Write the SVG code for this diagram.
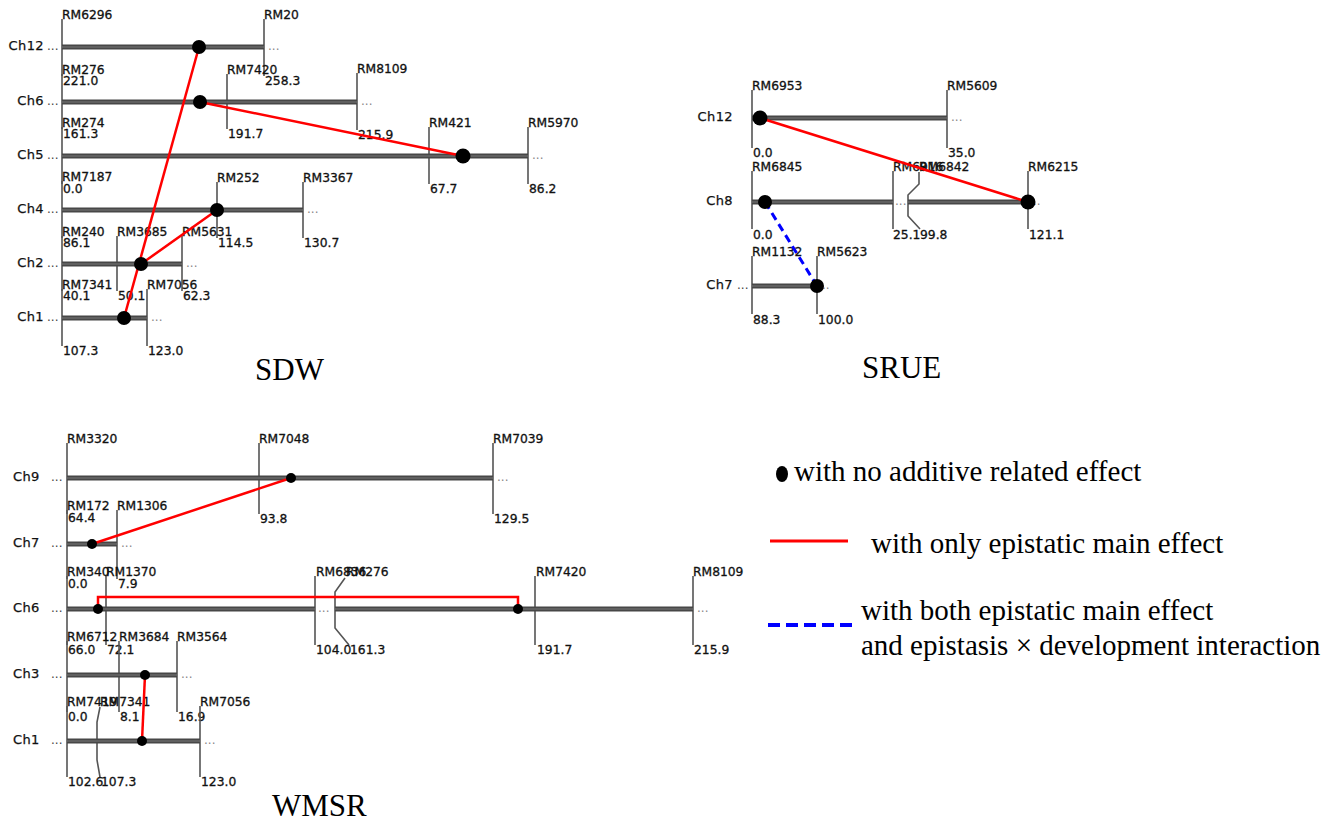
<svg xmlns="http://www.w3.org/2000/svg" width="1335" height="821" viewBox="0 0 1335 821">
<style>
.bar{stroke:#474747;stroke-width:5;fill:none}
.hl{stroke:#7a7a7a;stroke-width:1;fill:none}
.tk{stroke:#555;stroke-width:1.6;fill:none}
.m{font-family:"DejaVu Sans",sans-serif;font-size:12.3px;fill:#111;stroke:#111;stroke-width:0.3}
.ch{font-family:"DejaVu Sans",sans-serif;font-size:13px;fill:#111;stroke:#111;stroke-width:0.25;letter-spacing:0.4px}
.dl{font-family:"DejaVu Sans",sans-serif;font-size:12px;fill:#444}
.dr{font-family:"DejaVu Sans",sans-serif;font-size:12px;fill:#888}
.ti{font-family:"Liberation Serif","Times New Roman",serif;font-size:31px;fill:#000}
.lg{font-family:"Liberation Serif","Times New Roman",serif;font-size:29px;fill:#000}
.red{stroke:#ff0000;stroke-width:2.5;fill:none}
.blue{stroke:#0000ff;stroke-width:3;stroke-dasharray:8 5;fill:none}
.dot{fill:#000}
</style>
<rect width="1335" height="821" fill="#fff"/>

<!-- ===== SDW ===== -->
<g id="sdw-ch12">
<text class="ch" x="44" y="50" text-anchor="end">Ch12</text><text class="dl" x="47" y="50">...</text>
<path class="tk" d="M62 19V76M264 19V76"/>
<path class="bar" d="M62 47H264"/><path class="hl" d="M62 47H264"/>
<text class="dr" x="268" y="50">...</text>
<text class="m" x="62" y="19">RM6296</text><text class="m" x="264" y="19">RM20</text>
<text class="m" x="63" y="85">221.0</text><text class="m" x="265" y="85">258.3</text>
</g>
<g id="sdw-ch6">
<text class="ch" x="44" y="105" text-anchor="end">Ch6</text><text class="dl" x="47" y="105">...</text>
<path class="tk" d="M62 74V129M227 74V129M357 73V130"/>
<path class="bar" d="M62 102H357"/><path class="hl" d="M62 102H357"/>
<text class="dr" x="361" y="105">...</text>
<text class="m" x="62" y="74">RM276</text><text class="m" x="227" y="74">RM7420</text><text class="m" x="357" y="73">RM8109</text>
<text class="m" x="63" y="138">161.3</text><text class="m" x="228" y="138">191.7</text><text class="m" x="358" y="139">215.9</text>
</g>
<g id="sdw-ch5">
<text class="ch" x="44" y="159" text-anchor="end">Ch5</text><text class="dl" x="47" y="159">...</text>
<path class="tk" d="M62 127V184M429 127V184M528 127V184"/>
<path class="bar" d="M62 156H528"/><path class="hl" d="M62 156H528"/>
<text class="dr" x="532" y="159">...</text>
<text class="m" x="62" y="127">RM274</text><text class="m" x="429" y="127">RM421</text><text class="m" x="528" y="127">RM5970</text>
<text class="m" x="63" y="193">0.0</text><text class="m" x="430" y="193">67.7</text><text class="m" x="529" y="193">86.2</text>
</g>
<g id="sdw-ch4">
<text class="ch" x="44" y="213" text-anchor="end">Ch4</text><text class="dl" x="47" y="213">...</text>
<path class="tk" d="M62 181V238M217 182V238M303 182V238"/>
<path class="bar" d="M62 210H303"/><path class="hl" d="M62 210H303"/>
<text class="dr" x="307" y="213">...</text>
<text class="m" x="62" y="181">RM7187</text><text class="m" x="217" y="182">RM252</text><text class="m" x="303" y="182">RM3367</text>
<text class="m" x="63" y="247">86.1</text><text class="m" x="218" y="247">114.5</text><text class="m" x="304" y="247">130.7</text>
</g>
<g id="sdw-ch2">
<text class="ch" x="44" y="267" text-anchor="end">Ch2</text><text class="dl" x="47" y="267">...</text>
<path class="tk" d="M62 236V291M117 236V291M182 236V291"/>
<path class="bar" d="M62 264H182"/><path class="hl" d="M62 264H182"/>
<text class="dr" x="186" y="267">...</text>
<text class="m" x="62" y="236">RM240</text><text class="m" x="117" y="236">RM3685</text><text class="m" x="182" y="236">RM5631</text>
<text class="m" x="63" y="300">40.1</text><text class="m" x="118" y="300">50.1</text><text class="m" x="183" y="300">62.3</text>
</g>
<g id="sdw-ch1">
<text class="ch" x="44" y="321" text-anchor="end">Ch1</text><text class="dl" x="47" y="321">...</text>
<path class="tk" d="M62 289V346M147 289V346"/>
<path class="bar" d="M62 318H147"/><path class="hl" d="M62 318H147"/>
<text class="dr" x="151" y="321">...</text>
<text class="m" x="62" y="289">RM7341</text><text class="m" x="147" y="289">RM7056</text>
<text class="m" x="63" y="355">107.3</text><text class="m" x="148" y="355">123.0</text>
</g>
<text id="title-sdw" class="ti" x="255" y="380">SDW</text>

<!-- ===== SRUE ===== -->
<g id="srue-ch12">
<text class="ch" x="733" y="121" text-anchor="end">Ch12</text>
<path class="tk" d="M752 90V148M947 90V148"/>
<path class="bar" d="M752 118H947"/><path class="hl" d="M752 118H947"/>
<text class="dr" x="951" y="121">...</text>
<text class="m" x="752" y="90">RM6953</text><text class="m" x="947" y="90">RM5609</text>
<text class="m" x="753" y="157">0.0</text><text class="m" x="948" y="157">35.0</text>
</g>
<g id="srue-ch8">
<text class="ch" x="733" y="205" text-anchor="end">Ch8</text>
<path class="tk" d="M752 171V229M893 171V229M1028 171V229M919 172V184L908 195V216L920 229"/>
<path class="bar" d="M752 202H893M908 202H1028"/><path class="hl" d="M752 202H893M908 202H1028"/>
<text class="dr" x="895" y="205">...</text>
<text class="dr" x="1033" y="205">..</text>
<text class="m" x="752" y="171">RM6845</text><text class="m" x="893" y="171">RM6916</text><text class="m" x="919" y="171">RM6842</text><text class="m" x="1028" y="171">RM6215</text>
<text class="m" x="753" y="239">0.0</text><text class="m" x="893" y="239">25.1</text><text class="m" x="920" y="239">99.8</text><text class="m" x="1029" y="239">121.1</text>
</g>
<g id="srue-ch7">
<text class="ch" x="733" y="289" text-anchor="end">Ch7</text><text class="dl" x="737" y="289">...</text>
<path class="tk" d="M752 256V314M817 256V314"/>
<path class="bar" d="M752 286H817"/><path class="hl" d="M752 286H817"/>
<text class="dr" x="822" y="289">..</text>
<text class="m" x="752" y="256">RM1132</text><text class="m" x="817" y="256">RM5623</text>
<text class="m" x="753" y="324">88.3</text><text class="m" x="818" y="324">100.0</text>
</g>
<text id="title-srue" class="ti" x="862" y="378">SRUE</text>

<!-- ===== WMSR ===== -->
<g id="wmsr-ch9">
<text class="ch" x="13" y="481">Ch9</text><text class="dl" x="51" y="481">...</text>
<path class="tk" d="M67 443V514M259 443V514M493 443V514"/>
<path class="bar" d="M67 478H493"/><path class="hl" d="M67 478H493"/>
<text class="dr" x="497" y="481">...</text>
<text class="m" x="67" y="443">RM3320</text><text class="m" x="259" y="443">RM7048</text><text class="m" x="493" y="443">RM7039</text>
<text class="m" x="68" y="522">64.4</text><text class="m" x="260" y="523">93.8</text><text class="m" x="494" y="523">129.5</text>
</g>
<g id="wmsr-ch7">
<text class="ch" x="13" y="547">Ch7</text><text class="dl" x="51" y="547">...</text>
<path class="tk" d="M67 510V579M117 510V579"/>
<path class="bar" d="M67 544H117"/><path class="hl" d="M67 544H117"/>
<text class="dr" x="121" y="547">...</text>
<text class="m" x="67" y="510">RM172</text><text class="m" x="117" y="510">RM1306</text>
<text class="m" x="68" y="588">0.0</text><text class="m" x="118" y="588">7.9</text>
</g>
<g id="wmsr-ch6">
<text class="ch" x="13" y="612">Ch6</text><text class="dl" x="51" y="612">...</text>
<path class="tk" d="M67 576V645M106 576V645M315 576V645M535 576V645M693 576V645M345 578L335 592V628L349 645"/>
<path class="bar" d="M67 609H315M335 609H693"/><path class="hl" d="M67 609H315M335 609H693"/>
<text class="dr" x="318" y="612">...</text>
<text class="dr" x="697" y="612">...</text>
<text class="m" x="67" y="576">RM340</text><text class="m" x="106" y="576">RM1370</text><text class="m" x="316" y="576">RM6836</text><text class="m" x="346" y="576">RM276</text><text class="m" x="536" y="576">RM7420</text><text class="m" x="693" y="576">RM8109</text>
<text class="m" x="68" y="654">66.0</text><text class="m" x="107" y="654">72.1</text><text class="m" x="316" y="654">104.0</text><text class="m" x="350" y="654">161.3</text><text class="m" x="537" y="654">191.7</text><text class="m" x="694" y="654">215.9</text>
</g>
<g id="wmsr-ch3">
<text class="ch" x="13" y="678">Ch3</text><text class="dl" x="51" y="678">...</text>
<path class="tk" d="M67 641V712M119 641V712M177 641V712"/>
<path class="bar" d="M67 675H177"/><path class="hl" d="M67 675H177"/>
<text class="dr" x="181" y="678">...</text>
<text class="m" x="67" y="641">RM6712</text><text class="m" x="119" y="641">RM3684</text><text class="m" x="177" y="641">RM3564</text>
<text class="m" x="68" y="721">0.0</text><text class="m" x="120" y="721">8.1</text><text class="m" x="178" y="721">16.9</text>
</g>
<g id="wmsr-ch1">
<text class="ch" x="13" y="744">Ch1</text><text class="dl" x="51" y="744">...</text>
<path class="tk" d="M67 706V777M200 706V777M100 707L97 722V760L100 777"/>
<path class="bar" d="M67 741H200"/><path class="hl" d="M67 741H200"/>
<text class="dr" x="204" y="744">...</text>
<text class="m" x="67" y="706">RM7419</text><text class="m" x="100" y="706">RM7341</text><text class="m" x="200" y="706">RM7056</text>
<text class="m" x="68" y="786">102.6</text><text class="m" x="101" y="786">107.3</text><text class="m" x="201" y="786">123.0</text>
</g>
<text id="title-wmsr" class="ti" x="272" y="816">WMSR</text>

<!-- ===== connectors ===== -->
<g id="connectors">
<path class="red" d="M199 47L124 318"/>
<path class="red" d="M200 102L463 156"/>
<path class="red" d="M217 210L141 264"/>
<path class="red" d="M760 118L1028 202"/>
<path class="blue" d="M765 202L817 286"/>
<path class="red" d="M92 544L291 478"/>
<path class="red" d="M98 609V597H518V609"/>
<path class="red" d="M145 675L142 741"/>
</g>

<!-- ===== loci ===== -->
<g id="loci">
<circle class="dot" cx="199" cy="47" r="7"/>
<circle class="dot" cx="200" cy="102" r="7"/>
<circle class="dot" cx="463" cy="156" r="7.5"/>
<circle class="dot" cx="217" cy="210" r="7"/>
<circle class="dot" cx="141" cy="264" r="7"/>
<circle class="dot" cx="124" cy="318" r="7"/>
<circle class="dot" cx="760" cy="118" r="7.5"/>
<circle class="dot" cx="765" cy="202" r="7"/>
<circle class="dot" cx="1028" cy="202" r="7.5"/>
<circle class="dot" cx="817" cy="286" r="7"/>
<circle class="dot" cx="291" cy="478" r="5"/>
<circle class="dot" cx="92" cy="544" r="5"/>
<circle class="dot" cx="98" cy="609" r="5"/>
<circle class="dot" cx="518" cy="609" r="5"/>
<circle class="dot" cx="145" cy="675" r="5"/>
<circle class="dot" cx="142" cy="741" r="5"/>
</g>

<!-- ===== legend ===== -->
<g id="legend">
<ellipse cx="782" cy="474" rx="6" ry="8" fill="#000"/>
<text class="lg" x="794" y="481">with no additive related effect</text>
<path d="M770 541H848" stroke="#ff0000" stroke-width="3"/>
<text class="lg" x="871" y="553">with only epistatic main effect</text>
<path d="M768 625H852" stroke="#0000ff" stroke-width="4" stroke-dasharray="12 6"/>
<text class="lg" x="861" y="620">with both epistatic main effect</text>
<text class="lg" x="861" y="655">and epistasis × development interaction</text>
</g>
</svg>
